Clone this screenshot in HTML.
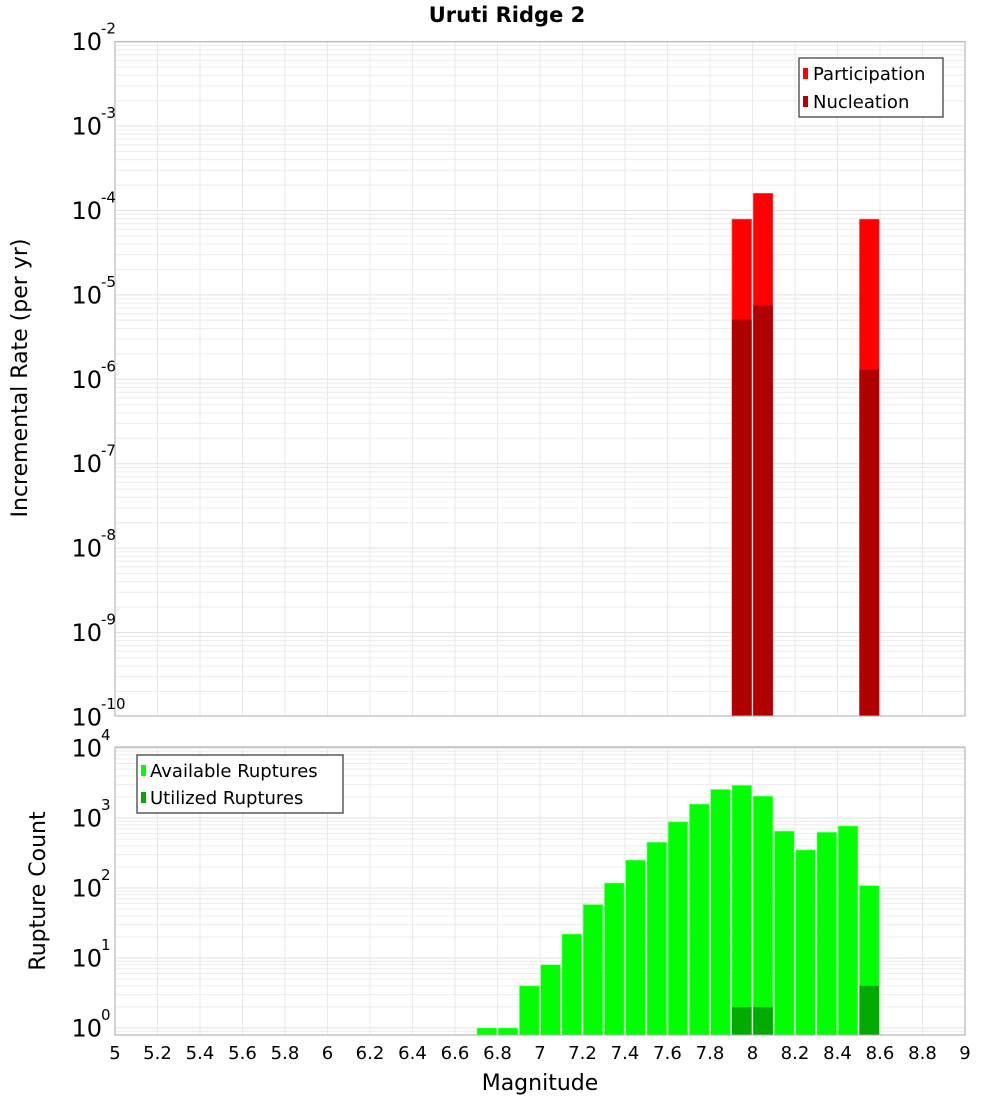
<!DOCTYPE html>
<html><head><meta charset="utf-8"><style>
body{margin:0;background:#fff}
svg{display:block;font-family:"DejaVu Sans","Liberation Sans",sans-serif}
</style></head><body>
<svg id="c" width="1000" height="1100" xmlns="http://www.w3.org/2000/svg">
<text x="507" y="22" text-anchor="middle" font-size="21" font-weight="bold">Uruti Ridge 2</text>
<g id="top"></g>
<g id="bot"></g>
<text transform="translate(27,378) rotate(-90)" text-anchor="middle" font-size="22">Incremental Rate (per yr)</text>
<text transform="translate(45,891) rotate(-90)" text-anchor="middle" font-size="22">Rupture Count</text>
<text x="540" y="1090" text-anchor="middle" font-size="22">Magnitude</text>
<g>
<rect x="799" y="58" width="144" height="59" fill="#fff" stroke="#333" stroke-width="1.2"/>
<rect x="803" y="68" width="5" height="11" fill="#ff0000"/>
<text x="813" y="80" font-size="18">Participation</text>
<rect x="803" y="96" width="5" height="11" fill="#b00000"/>
<text x="813" y="108" font-size="18">Nucleation</text>
</g>
<g>
<rect x="137" y="755" width="206" height="58" fill="#fff" stroke="#333" stroke-width="1.2"/>
<rect x="141" y="765" width="5" height="11" fill="#00ff00"/>
<text x="150" y="777" font-size="18">Available Ruptures</text>
<rect x="141" y="792" width="5" height="11" fill="#00aa00"/>
<text x="150" y="804" font-size="18">Utilized Ruptures</text>
</g>
</svg>
<script>
const rateMags=[7.95,8.05,8.55];
const participation=[7.9e-5,1.6e-4,7.9e-5];
const nucleation=[5.1e-6,7.5e-6,1.3e-6];
const countMags=[6.75,6.85,6.95,7.05,7.15,7.25,7.35,7.45,7.55,7.65,7.75,7.85,7.95,8.05,8.15,8.25,8.35,8.45,8.55];
const available=[1,1,4,8,22,58,118,250,450,880,1580,2560,2930,2050,650,350,625,770,108];
const utilizedMags=[7.95,8.05,8.55];
const utilized=[2,2,4];
const xTicks=[5,5.2,5.4,5.6,5.8,6,6.2,6.4,6.6,6.8,7,7.2,7.4,7.6,7.8,8,8.2,8.4,8.6,8.8,9];
const topExp=[-2,-3,-4,-5,-6,-7,-8,-9,-10];
const botExp=[4,3,2,1,0];

const NS="http://www.w3.org/2000/svg";
const X0=115,X1=965;
const x=m=>X0+(m-5)/4*(X1-X0);
const yTop=v=>41.7+(-2-Math.log10(v))*84.4;
const yBot=v=>1028-Math.log10(v)*70;
function mk(p,t,a){const e=document.createElementNS(NS,t);for(const k in a)e.setAttribute(k,a[k]);p.appendChild(e);return e;}
function panel(g,top,bot,emin,emax,yf,name){
  mk(g,'rect',{x:X0,y:top,width:X1-X0,height:bot-top,fill:'#fff'});
  for(let e=emin-1;e<=emax;e++)for(let k=1;k<10;k++){const v=k*Math.pow(10,e);const y=yf(v);if(y<top||y>bot)continue;
    const l=mk(g,'line',{x1:X0,x2:X1,y1:y,y2:y,stroke:k==1?'#e2e2e2':'#ececec','stroke-width':1});
    }
  xTicks.forEach(t=>{const l=mk(g,'line',{x1:x(t),x2:x(t),y1:top,y2:bot,stroke:'#e8e8e8'});
    });
}
const gt=document.getElementById('top'),gb=document.getElementById('bot');
panel(gt,41.7,716,-10,-2,yTop,'rate');
panel(gb,747,1035,0,4,yBot,'count');
const bw=(X1-X0)/40;
rateMags.forEach((m,i)=>{
  const yb=716;
  const r=mk(gt,'rect',{x:x(m)-bw/2+0.7,y:yTop(participation[i]),width:bw-1.6,height:yb-yTop(participation[i]),fill:'#ff0000',stroke:'#ff6060','stroke-width':0.6});
  
  const n=mk(gt,'rect',{x:x(m)-bw/2+0.7,y:yTop(nucleation[i]),width:bw-1.6,height:yb-yTop(nucleation[i]),fill:'#b00000'});
  
});
countMags.forEach((m,i)=>{
  const r=mk(gb,'rect',{x:x(m)-bw/2+0.7,y:yBot(available[i]),width:bw-1.6,height:1035-yBot(available[i]),fill:'#00ff00',stroke:'#80ff80','stroke-width':0.6});
  
});
utilizedMags.forEach((m,i)=>{
  const r=mk(gb,'rect',{x:x(m)-bw/2+0.7,y:yBot(utilized[i]),width:bw-1.6,height:1035-yBot(utilized[i]),fill:'#00aa00'});
  
});
mk(gt,'rect',{x:X0,y:41.7,width:X1-X0,height:716-41.7,fill:'none',stroke:'#aaa'});
mk(gb,'rect',{x:X0,y:747,width:X1-X0,height:1035-747,fill:'none',stroke:'#aaa'});
function ylab(g,e,y,name){
  const t=mk(g,'text',{x:102,y:y+8.5,'text-anchor':'end','font-size':24});t.textContent='10';
  
  const s=mk(g,'text',{x:101,y:y-8,'font-size':15});s.textContent=String(e);
  
}
topExp.forEach(e=>ylab(gt,e,yTop(Math.pow(10,e)),'rate-tick-label'));
botExp.forEach(e=>ylab(gb,e,yBot(Math.pow(10,e)),'count-tick-label'));
xTicks.forEach(t=>{const l=mk(gb,'text',{x:x(t),y:1059,'text-anchor':'middle','font-size':18});l.textContent=String(t);
  });
</script>
</body></html>
